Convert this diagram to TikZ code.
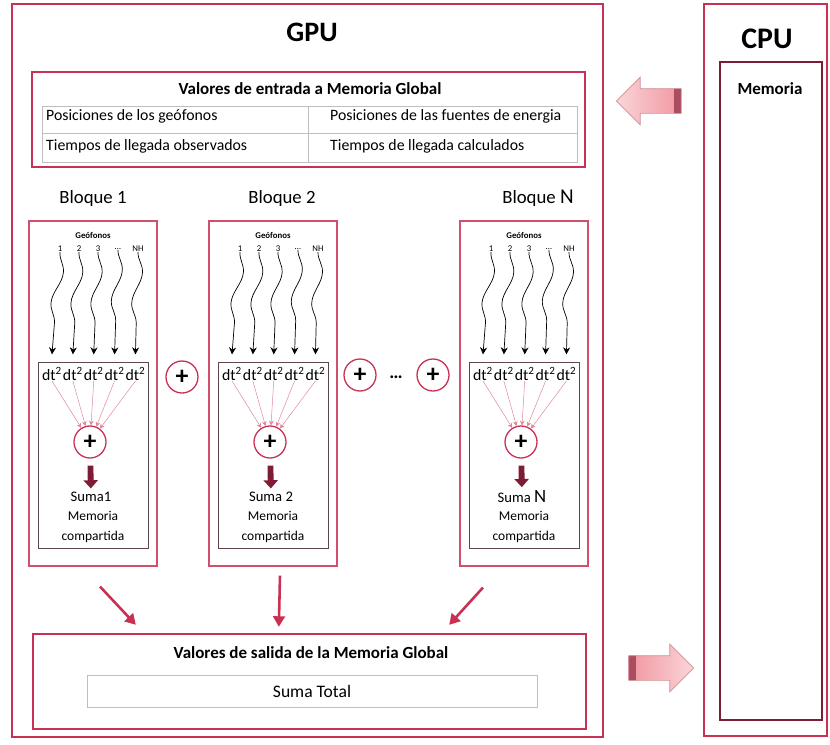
\documentclass[tikz,border=0pt]{standalone}
\usepackage{fontspec}
\setmainfont{Carlito}
\usepackage{tikz}
\usetikzlibrary{positioning, fit, shapes.arrows, arrows.meta, decorations.pathmorphing}

\definecolor{rojo}{RGB}{201,48,82}
\definecolor{granate}{RGB}{125,28,52}
\definecolor{gris}{RGB}{190,190,190}
\definecolor{rosa}{RGB}{242,150,160}
\definecolor{oscuro}{RGB}{95,70,78}

\newcommand{\tam}[1]{\fontsize{#1}{#1}\selectfont}

\begin{document}
\begin{tikzpicture}[
    x=0.03cm, y=-0.03cm,
    every node/.style={inner sep=0pt},
    caja/.style={draw=rojo, line width=1.3pt},
    marco/.style={draw=rojo, line width=2pt},
    bloque/.style={draw=rojo!85, line width=0.9pt},
    interior/.style={draw=oscuro, line width=0.7pt},
    tabla/.style={draw=gris, line width=0.6pt},
    suma/.style={circle, draw=rojo, line width=1.1pt, minimum size=0.96cm, font=\tam{22}\bfseries},
    flecha/.style={draw=rojo, line width=2.2pt, -{Triangle[length=9pt,width=10pt]}},
    onda/.style={draw=black, line width=0.6pt, -{Stealth[length=6pt,width=6pt]}, decorate,
        decoration={snake, amplitude=0.15cm, segment length=1.9cm, post length=0.3cm}},
    hilo/.style={draw=rojo!60, line width=0.4pt, -{Stealth[length=4pt,width=4pt]}},
    bajada/.style={draw=granate, line width=5pt, -{Triangle[length=7pt,width=12pt]}, shorten <=6pt, shorten >=3pt},
    grande/.style={single arrow, single arrow head extend=0.345cm, inner xsep=0pt, inner ysep=0.36cm,
        minimum height=1.95cm, draw=rosa!70!gray, line width=0.6pt}
]
\useasboundingbox (0,0) rectangle (830,744);

% GPU y CPU
\node[caja, fit={(12,4) (603,737)}] (gpu) {};
\node[font=\tam{24}\bfseries] (tgpu) at (312,32) {GPU};
\node[caja, fit={(704,4) (827,736)}] (cpu) {};
\node[font=\tam{25.5}\bfseries] (tcpu) at (767,39) {CPU};
\node[draw=granate, line width=1pt, fit={(720,62) (822,720)}] (mem) {};
\node[font=\tam{14.5}\bfseries] (tmem) at (770,89) {Memoria};

\node[grande, shape border rotate=180, left color=rosa!40, right color=rosa,
    path picture={\fill[granate!60!rosa] ([xshift=-0.21cm]path picture bounding box.north east) rectangle (path picture bounding box.south east);}] (hacia) at (655,101) {};
\node[grande, left color=rosa, right color=rosa!40,
    path picture={\fill[granate!60!rosa] (path picture bounding box.north west) rectangle ([xshift=0.21cm]path picture bounding box.south west);}] (desde) at (655,668) {};

% entrada
\node[marco, fit={(32,72) (585,167)}] (entrada) {};
\node[font=\tam{14.5}\bfseries] (tentrada) at (310,89) {Valores de entrada a Memoria Global};
\node[tabla, fit={(42,106) (577,162)}] (tab) {};
\draw[tabla] (42,133) -- (577,133);
\draw[tabla] (308,106) -- (308,162);
\node[font=\tam{13.5}, anchor=base west] (p1) at (46,120) {Posiciones de los geófonos};
\node[font=\tam{13.5}, anchor=base west] (p2) at (330,120) {Posiciones de las fuentes de energia};
\node[font=\tam{13.5}, anchor=base west] (p3) at (46,150) {Tiempos de llegada observados};
\node[font=\tam{13.5}, anchor=base west] (p4) at (330,150) {Tiempos de llegada calculados};

% bloques
\node[font=\tam{16}] (lb1) at (93,198) {Bloque 1};
\node[font=\tam{16}] (lb2) at (282,198) {Bloque 2};
\node[font=\tam{16}] (lb3) at (538,198) {Bloque {\tam{18}N}};

\foreach \i/\cx/\txt in {1/93/Suma1, 2/273/Suma 2, 3/524/Suma {\tam{16}N}} {
    \node[bloque, fit={({\cx-64},221) ({\cx+64},566)}] (blq\i) {};
    \node[interior, fit={({\cx-55},362) ({\cx+55},548)}] (in\i) {};
    \node[font=\tam{7.5}\bfseries] (geo\i) at (\cx,235) {Geófonos};
    \foreach \j/\dx/\num in {1/-33/1, 2/-14/2, 3/5/3, 4/25/{\ldots}, 5/45/NH}
        \node[font=\tam{7.5}] (n\i\j) at ({\cx+(\dx)},249) {\num};
    \node[font=\tam{13.5}] (d\i1) at ({\cx-41},374) {dt\textsuperscript{2}};
    \foreach \j [remember=\j as \k (initially 1)] in {2,3,4,5}
        \node[font=\tam{13.5}, right=0.5pt of d\i\k] (d\i\j) {dt\textsuperscript{2}};
    \node[suma] (s\i) at ({\cx-3},442) {+};
    \node[font=\tam{12.5}] (sm\i) at ({\cx-2},497) {\txt};
    \node[font=\fontsize{11.5}{17}\selectfont, align=center] (mc\i) at (\cx,527) {Memoria\\compartida};
    \foreach \j in {1,2,3,4,5} {
        \draw[onda] (n\i\j.south) -- ([yshift=0.38cm]d\i\j.north);
        \draw[hilo] (d\i\j.south) -- (s\i);
    }
    \draw[bajada] (s\i) -- (sm\i);
}

\node[suma] (m1) at (182,377) {+};
\node[suma] (m2) at (360,375) {+};
\node[font=\tam{16}\bfseries] (pts) at (396,377) {\ldots};
\node[suma] (m3) at (433,375) {+};

% salida
\node[marco, fit={(33,634) (586,729)}] (salida) {};
\node[font=\tam{14.5}\bfseries] (tsalida) at (311,653) {Valores de salida de la Memoria Global};
\node[tabla, fit={(87,675) (537,707)}] (total) {};
\node[font=\tam{15}] (ttotal) at (312,691) {Suma Total};

\draw[flecha] ([shift={(7,20)}]blq1.south) -- ([shift={(104,-8)}]salida.north west);
\draw[flecha] ([shift={(7,9)}]blq2.south) -- ([shift={(247,-6)}]salida.north west);
\draw[flecha] ([shift={(-41,21)}]blq3.south) -- ([shift={(-138,-8)}]salida.north east);
\end{tikzpicture}
\end{document}
